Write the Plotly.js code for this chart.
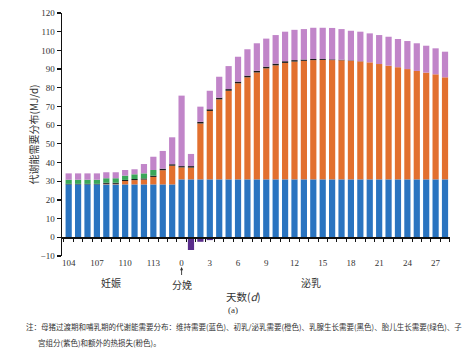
<!DOCTYPE html>
<html><head><meta charset="utf-8">
<script src="https://cdn.plot.ly/plotly-3.0.1.min.js"></script>
<style>html,body{margin:0;padding:0;background:#fff}#chart{width:466px;height:350px}</style>
</head><body><div id="chart"></div>
<script>
const days = ['104','105','106','107','108','109','110','111','112','113','114','115',
  '0','1','2','3','4','5','6','7','8','9','10','11','12','13','14','15','16','17','18','19','20','21','22','23','24','25','26','27','28'];
const tickLabels = ['104','107','110','113','0','3','6','9','12','15','18','21','24','27'];
// 维持需要 (blue)
const maintenance = [28.3,28.3,28.3,28.3,28.3,28.3,28.3,28.3,28.3,28.3,28.3,28.3,
  31.0,31.0,31.0,31.0,31.0,31.0,31.0,31.0,31.0,31.0,31.0,31.0,31.0,31.0,31.0,31.0,31.0,31.0,31.0,31.0,31.0,31.0,31.0,31.0,31.0,31.0,31.0,31.0,31.0];
// 初乳/泌乳需要 (orange)
const lactation = [0,0,0,0,0.3,0.3,1.8,2.3,2.6,4.0,7.6,10.0,
  6.4,6.3,29.9,36.6,42.8,47.4,51.4,54.6,57.2,59.4,61.0,62.3,63.0,63.4,63.8,63.9,63.8,63.7,63.5,63.1,62.6,61.7,60.8,60.0,59.0,58.0,57.1,56.2,54.6];
// 乳腺生长需要 (black)
const mammary = [0.3,0.3,0.3,0.3,0.6,0.6,0.6,0.6,0.6,0.7,0.8,0.8,
  0.7,0.8,0.9,0.9,0.9,0.9,0.9,0.9,0.9,0.9,0.9,0.9,0.8,0.7,0.6,0.5,0.4,0.3,0.2,0.1,0,0,0,0,0,0,0,0,0];
// 胎儿生长需要 (green)
const fetal = [2.2,2.2,2.2,2.2,2.4,2.4,2.3,2.5,2.7,3.0,0,0,
  0,0,0,0,0,0,0,0,0,0,0,0,0,0,0,0,0,0,0,0,0,0,0,0,0,0,0,0,0];
// 子宫组分 (purple)
const uterine = [0,0,0,0,0,0,0,0,0,0,0,0,
  0,-6.8,-2.4,-1.5,-0.8,-0.4,0,0,0,0,0,0,0,0,0,0,0,0,0,0,0,0,0,0,0,0,0,0,0];
// 额外的热损失 (pink)
const heatLoss = [3.4,3.4,3.4,3.4,3.2,3.2,3.0,2.7,5.0,7.1,9.5,14.4,
  37.7,6.5,8.1,9.9,11.2,12.3,13.3,14.1,14.7,15.0,15.3,15.8,16.2,16.3,16.7,16.7,16.8,16.4,15.8,15.8,15.5,15.5,15.5,15.1,15.0,14.8,14.4,13.9,13.7];

const series = [
  {name:'维持需要', y: maintenance, color:'#2a74c0'},
  {name:'初乳/泌乳需要', y: lactation, color:'#e2702f'},
  {name:'乳腺生长需要', y: mammary, color:'#1c1c1c'},
  {name:'胎儿生长需要', y: fetal, color:'#3aa65a'},
  {name:'额外的热损失', y: heatLoss, color:'#c185c9'}
];
const traces = series.map(s => ({type:'bar', x: days, y: s.y, name: s.name,
  marker:{color:s.color, line:{width:0}}, xaxis:'x', yaxis:'y'}));
traces.push({type:'bar', x: days, y: uterine, name:'子宫组分',
  marker:{color:'#5a2d8c', line:{width:0}}, xaxis:'x2', yaxis:'y'});

const serif = 'Liberation Serif, Times New Roman, serif';
const cjk = 'Noto Sans CJK SC, sans-serif';
const L = 62, R = 450, T = 13, B = 256;
const px = v => (v - L) / (R - L);
const py = v => (B - v) / (B - T);
const ann = (text, x, y, opts) => Object.assign({text, xref:'paper', yref:'paper', x, y,
  xanchor:'center', yanchor:'middle', showarrow:false}, opts);

const layout = {
  width: 466, height: 350,
  margin: {l: L, r: 466 - R, t: T, b: 350 - B},
  paper_bgcolor: '#fff', plot_bgcolor: '#fff',
  barmode: 'relative', bargap: 0.34,
  showlegend: false,
  xaxis: {type:'category', categoryorder:'array', categoryarray: days,
    range: [-0.71, 40.53], tickmode:'array', tickvals: tickLabels, ticktext: tickLabels,
    showline:false, ticks:'', showgrid:false, zeroline:false,
    tickfont:{family: serif, size: 9, color:'#333'}},
  xaxis2: {type:'category', overlaying:'x', matches:'x', anchor:'free', position: 10/130,
    categoryorder:'array', categoryarray: days,
    showline:true, linecolor:'#111', linewidth:1.5,
    ticks:'outside', ticklen:3, tickwidth:1, tickcolor:'#111', tickson:'boundaries',
    tickmode:'linear', tick0:0, dtick:1,
    showticklabels:false, showgrid:false, zeroline:false},
  yaxis: {range:[-10,120], tickmode:'linear', tick0:-10, dtick:10,
    showline:true, linecolor:'#111', linewidth:1.5,
    ticks:'outside', ticklen:4, tickwidth:1.2, tickcolor:'#111',
    showgrid:false, zeroline:false,
    tickfont:{family: serif, size: 9, color:'#333'},
    title:{text:'代谢能需要分布(MJ/d)', font:{family: cjk, size: 10, color:'#333'}, standoff: 0}},
  annotations: [
    ann('妊娠', px(111), py(282), {font:{family: cjk, size: 10, color:'#333'}}),
    {text:'分娩', xref:'x', yref:'paper', x: days.indexOf('0'), y: py(267),
      showarrow:true, ax:0, ay:17, arrowhead:2, arrowsize:0.7, arrowwidth:0.9,
      arrowcolor:'#333', standoff:0, startstandoff:0,
      font:{family: cjk, size: 10, color:'#333'}},
    ann('泌乳', px(311), py(282), {font:{family: cjk, size: 10, color:'#333'}}),
    ann('天数(<i>d</i>)', px(243), py(296), {font:{family: cjk, size: 10.5, color:'#333'}}),
    ann('(a)', px(233), py(310), {font:{family: serif, size: 9, color:'#333'}}),
    ann('注：母猪过渡期和哺乳期的代谢能需要分布：维持需要(蓝色)、初乳/泌乳需要(橙色)、乳腺生长需要(黑色)、胎儿生长需要(绿色)、子',
      px(24), py(326), {xanchor:'left', font:{family: cjk, size: 7.5, color:'#333'}}),
    ann('宫组分(紫色)和额外的热损失(粉色)。',
      px(36), py(342), {xanchor:'left', font:{family: cjk, size: 7.5, color:'#333'}})
  ]
};
Plotly.newPlot('chart', traces, layout, {displayModeBar:false, staticPlot:true});
</script>
</body></html>
